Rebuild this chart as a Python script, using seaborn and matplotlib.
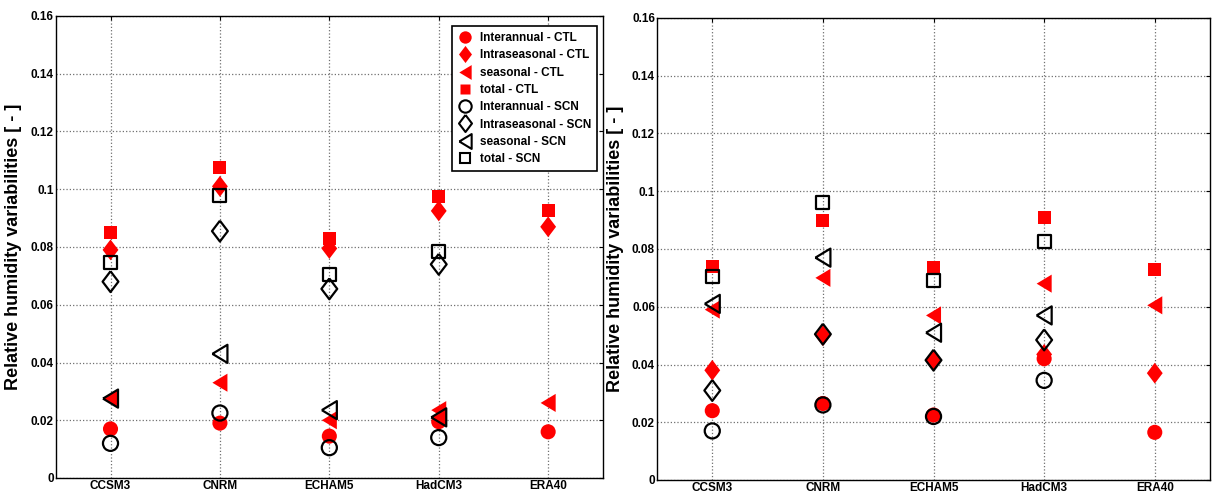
import numpy as np
import pandas as pd
import seaborn as sns
import matplotlib
matplotlib.use("Agg")
import matplotlib.pyplot as plt
from matplotlib.lines import Line2D

# --- datos ---
models = ['CCSM3', 'CNRM', 'ECHAM5', 'HadCM3', 'ERA40']
models_scn = ['CCSM3', 'CNRM', 'ECHAM5', 'HadCM3']

# panel izquierdo
left_inter_ctl = [0.017, 0.019, 0.0145, 0.0195, 0.016]
left_intra_ctl = [0.079, 0.101, 0.0795, 0.0925, 0.087]
left_seas_ctl = [0.0275, 0.033, 0.020, 0.0235, 0.026]
left_total_ctl = [0.085, 0.1075, 0.083, 0.0975, 0.0925]
left_inter_scn = [0.012, 0.0225, 0.0105, 0.014]
left_intra_scn = [0.068, 0.0855, 0.0655, 0.074]
left_seas_scn = [0.0275, 0.043, 0.0235, 0.021]
left_total_scn = [0.0745, 0.098, 0.0705, 0.0785]

# panel derecho
right_inter_ctl = [0.024, 0.0265, 0.0225, 0.042, 0.0165]
right_intra_ctl = [0.038, 0.050, 0.0415, 0.0435, 0.037]
right_seas_ctl = [0.059, 0.070, 0.057, 0.068, 0.0605]
right_total_ctl = [0.074, 0.090, 0.0735, 0.091, 0.073]
right_inter_scn = [0.017, 0.026, 0.022, 0.0345]
right_intra_scn = [0.031, 0.0505, 0.0415, 0.0485]
right_seas_scn = [0.061, 0.077, 0.051, 0.057]
right_total_scn = [0.0705, 0.096, 0.069, 0.0825]

labels = ['Interannual - CTL', 'Intraseasonal - CTL', 'seasonal - CTL', 'total - CTL',
          'Interannual - SCN', 'Intraseasonal - SCN', 'seasonal - SCN', 'total - SCN']
yticks = [0, 0.02, 0.04, 0.06, 0.08, 0.1, 0.12, 0.14, 0.16]
ytick_labels = ['0', '0.02', '0.04', '0.06', '0.08', '0.1', '0.12', '0.14', '0.16']

# marcadores tipo MATLAB (diamante y triangulo algo estirados)
diamond = [(0, 1), (0.76, 0), (0, -1), (-0.76, 0), (0, 1)]
tri_left = [(-0.83, 0), (0.83, 1), (0.83, -1), (-0.83, 0)]
# marcador, tamaño (pt^2)
markers = [('o', 118), (diamond, 225), (tri_left, 170), ('s', 88)]

sns.set_style('white')
plt.rcParams['font.family'] = ['Liberation Sans', 'DejaVu Sans']
plt.rcParams['font.weight'] = 'bold'
plt.rcParams['text.color'] = 'black'
plt.rcParams['axes.labelcolor'] = 'black'
plt.rcParams['xtick.color'] = 'black'
plt.rcParams['ytick.color'] = 'black'

fig = plt.figure(figsize=(12.13, 5.0), dpi=100)
ax1 = fig.add_axes([0.046, 0.044, 0.451, 0.924])
ax2 = fig.add_axes([0.5416, 0.040, 0.456, 0.924])


def draw_panel(ax, ctl, scn):
    # CTL: rojo relleno
    for (m, s), vals in zip(markers, ctl):
        sns.scatterplot(x=models, y=vals, marker=m, s=s, color='red',
                        edgecolor='none', linewidth=0, ax=ax, zorder=3)
    # SCN: negro abierto, encima
    for (m, s), vals in zip(markers, scn):
        sns.scatterplot(x=models_scn, y=vals, marker=m, s=s, color='black',
                        facecolors='none', edgecolor='black', linewidth=1.6,
                        ax=ax, zorder=4)
    ax.set_xlim(-0.5, 4.5)
    ax.set_ylim(0, 0.16)
    ax.set_yticks(yticks)
    ax.set_yticklabels(ytick_labels)
    ax.set_xticks(range(len(models)))
    ax.set_xticklabels(models)
    ax.grid(True, linestyle=':', color='#707070', linewidth=0.9)
    ax.set_axisbelow(True)
    ax.tick_params(axis='both', labelsize=8.5, direction='in', length=3,
                   top=True, right=True, pad=1.5)
    for lab in ax.get_xticklabels() + ax.get_yticklabels():
        lab.set_fontweight('bold')
    for sp in ax.spines.values():
        sp.set_color('black')
        sp.set_linewidth(1.0)
    ax.set_xlabel('')
    ax.set_ylabel('Relative humidity variabilities [ - ]', fontsize=13,
                  fontweight='bold', labelpad=6)


draw_panel(ax1,
           [left_inter_ctl, left_intra_ctl, left_seas_ctl, left_total_ctl],
           [left_inter_scn, left_intra_scn, left_seas_scn, left_total_scn])
draw_panel(ax2,
           [right_inter_ctl, right_intra_ctl, right_seas_ctl, right_total_ctl],
           [right_inter_scn, right_intra_scn, right_seas_scn, right_total_scn])

# leyenda
handles = []
for (m, s) in markers:
    handles.append(Line2D([], [], linestyle='none', marker=m, markersize=np.sqrt(s) * 0.82,
                          markerfacecolor='red', markeredgecolor='none'))
for (m, s) in markers:
    handles.append(Line2D([], [], linestyle='none', marker=m, markersize=np.sqrt(s) * 0.82,
                          markerfacecolor='none', markeredgecolor='black', markeredgewidth=1.5))
leg = ax1.legend(handles, labels, loc='upper right', bbox_to_anchor=(0.99, 0.978),
                 prop={'size': 8.5, 'weight': 'bold'}, frameon=True, fancybox=False,
                 handlelength=1.3, handletextpad=0.6, labelspacing=0.45,
                 borderpad=0.5, borderaxespad=0)
leg.get_frame().set_edgecolor('black')
leg.get_frame().set_linewidth(1.2)
leg.get_frame().set_alpha(1)

fig.savefig('out.png', dpi=100)
